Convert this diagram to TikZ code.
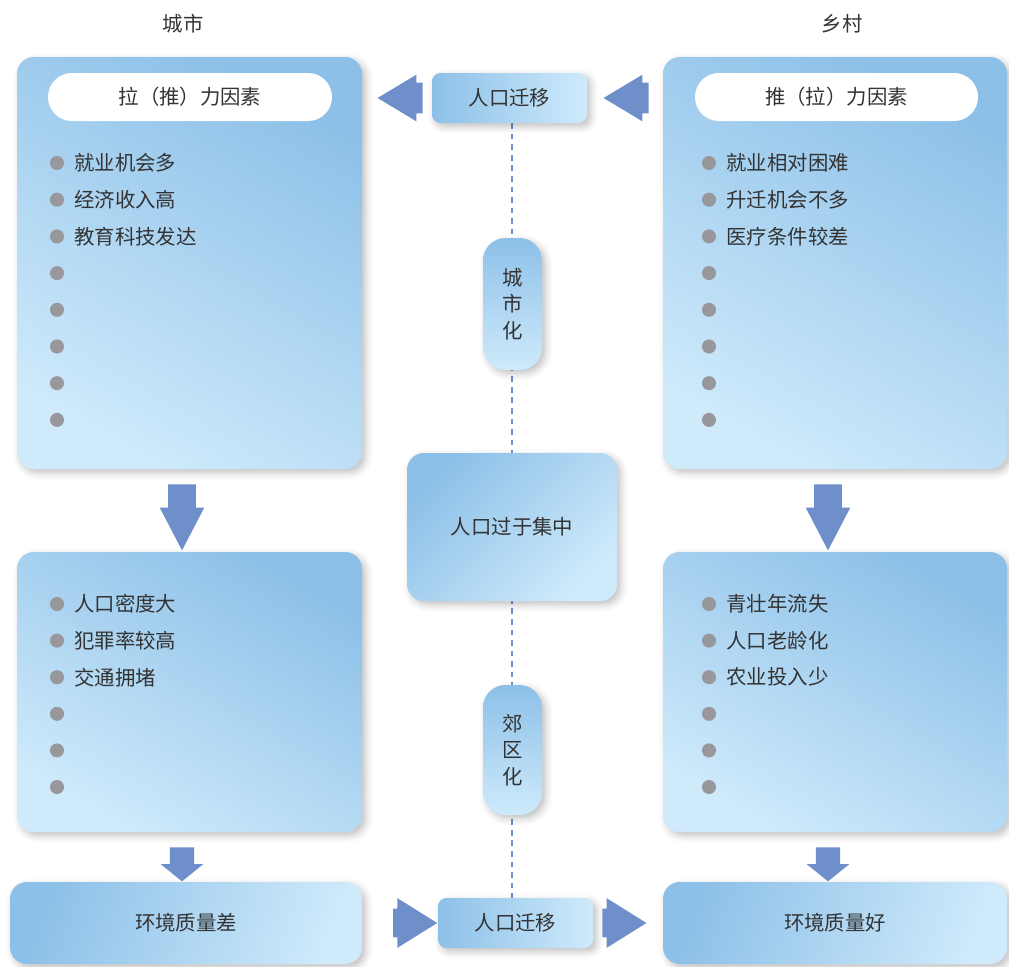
\documentclass[tikz,border=0pt]{standalone}
\usepackage{fontspec}
\setmainfont{Noto Sans CJK SC}
\usetikzlibrary{positioning,calc,shapes.arrows,shadows.blur,backgrounds}

\definecolor{boxdark}{RGB}{141,192,232}
\definecolor{boxlight}{RGB}{206,234,251}
\definecolor{arrowblue}{RGB}{110,143,201}
\definecolor{dotgrey}{RGB}{152,151,156}
\definecolor{inkgrey}{RGB}{51,51,51}

\def\u{0.025cm}

\begin{document}
\begin{tikzpicture}[x=0.025cm, y=-0.025cm,
    every node/.style={font=\fontsize{14.5pt}{19pt}\selectfont, text=inkgrey},
    panel/.style={rectangle, rounded corners=12pt, top color=boxdark, bottom color=boxlight,
        shading angle=#1, inner sep=0pt,
        blur shadow={shadow xshift=2.5pt, shadow yshift=-2.5pt, shadow opacity=25, shadow blur radius=5pt}},
    panel/.default=-30,
    tag/.style={rectangle, rounded corners=17pt, fill=white, inner sep=0pt},
    dot/.style={circle, fill=dotgrey, inner sep=0pt, minimum size=10pt},
    item/.style={inner sep=0pt},
    flowarrow/.style={single arrow, fill=arrowblue, inner sep=0pt, minimum height=#1},
    shaft/.style n args={3}{inner ysep=#1, single arrow head extend=#2, single arrow tip angle=#3},
    axisline/.style={arrowblue, line width=1.5pt, dash pattern=on 4pt off 3.5pt}]
    \useasboundingbox (0,0) rectangle (1009,967);

    % headings
    \node (cityT) at (183,24) {城市};
    \node (villT) at (842,24) {乡村};

    % city side
    \node[panel, minimum width=345*\u, minimum height=412*\u] (cityA) at (189.5,263) {};
    \node[tag, minimum width=284*\u, minimum height=48*\u] (pullA) at (190,97) {拉（推）力因素};
    \foreach \i in {1,...,8}
        \node[dot] (cd\i) at (57,{163+36.7*(\i-1)}) {};
    \foreach \t [count=\i] in {就业机会多,经济收入高,教育科技发达}
        \node[item, right=7pt of cd\i] {\t};

    \node[panel, minimum width=345*\u, minimum height=280*\u] (cityB) at (189.5,692) {};
    \foreach \i in {1,...,6}
        \node[dot] (ce\i) at (57,{604+36.6*(\i-1)}) {};
    \foreach \t [count=\i] in {人口密度大,犯罪率较高,交通拥堵}
        \node[item, right=7pt of ce\i] {\t};

    \node[panel=70, minimum width=352*\u, minimum height=82*\u] (cityC) at (186,923) {环境质量差};

    % village side
    \node[panel, minimum width=344*\u, minimum height=412*\u] (villA) at (835,263) {};
    \node[tag, minimum width=283*\u, minimum height=48*\u] (pushA) at (836.5,97) {推（拉）力因素};
    \foreach \i in {1,...,8}
        \node[dot] (vd\i) at (709,{163+36.7*(\i-1)}) {};
    \foreach \t [count=\i] in {就业相对困难,升迁机会不多,医疗条件较差}
        \node[item, right=7pt of vd\i] {\t};

    \node[panel, minimum width=344*\u, minimum height=280*\u] (villB) at (835,692) {};
    \foreach \i in {1,...,6}
        \node[dot] (ve\i) at (709,{604+36.6*(\i-1)}) {};
    \foreach \t [count=\i] in {青壮年流失,人口老龄化,农业投入少}
        \node[item, right=7pt of ve\i] {\t};

    \node[panel=70, minimum width=344*\u, minimum height=82*\u] (villC) at (835,923) {环境质量好};

    % middle column
    \node[panel=90, rounded corners=6pt, minimum width=155*\u, minimum height=50*\u] (migA) at (509.5,98) {人口迁移};
    \node[panel=45, minimum width=210*\u, minimum height=148*\u] (hub) at (512,527) {人口过于集中};
    \node[panel=0, rounded corners=16pt, minimum width=59*\u, minimum height=132*\u, align=center] (urb) at (512.5,304) {城\\市\\化};
    \node[panel=0, rounded corners=16pt, minimum width=59*\u, minimum height=130*\u, align=center] (sub) at (512.5,750) {郊\\区\\化};
    \node[panel=90, rounded corners=6pt, minimum width=155*\u, minimum height=50*\u] (migB) at (515.5,923) {人口迁移};

    \begin{scope}[on background layer]
        \draw[axisline] (migA.south -| hub) -- (migB.north -| hub);
    \end{scope}

    % block arrows
    \node[flowarrow=45*\u, shaft={10.7pt}{5.7pt}{62}, rotate=180, anchor=tip] (arTL) at (377,98) {};
    \node[flowarrow=45*\u, shaft={10.7pt}{5.7pt}{62}, rotate=180, anchor=tip] (arTR) at (603,98) {};
    \node[flowarrow=66*\u, shaft={9.6pt}{6pt}{55}, rotate=-90, anchor=tip] (arDL) at (182,551) {};
    \node[flowarrow=66*\u, shaft={9.6pt}{6pt}{55}, rotate=-90, anchor=tip] (arDR) at (828,551) {};
    \node[flowarrow=34*\u, shaft={8.5pt}{6.4pt}{102}, rotate=-90, anchor=tip] (arSL) at (cityC.north -| arDL.tip) {};
    \node[flowarrow=34*\u, shaft={8.5pt}{6.4pt}{102}, rotate=-90, anchor=tip] (arSR) at (villC.north -| arDR.tip) {};
    \node[flowarrow=44*\u, shaft={10pt}{7.5pt}{64}, anchor=tip] (arBL) at (migB.west) {};
    \node[flowarrow=44*\u, shaft={10pt}{7.5pt}{64}, anchor=tip] (arBR) at (647,923) {};
\end{tikzpicture}
\end{document}
